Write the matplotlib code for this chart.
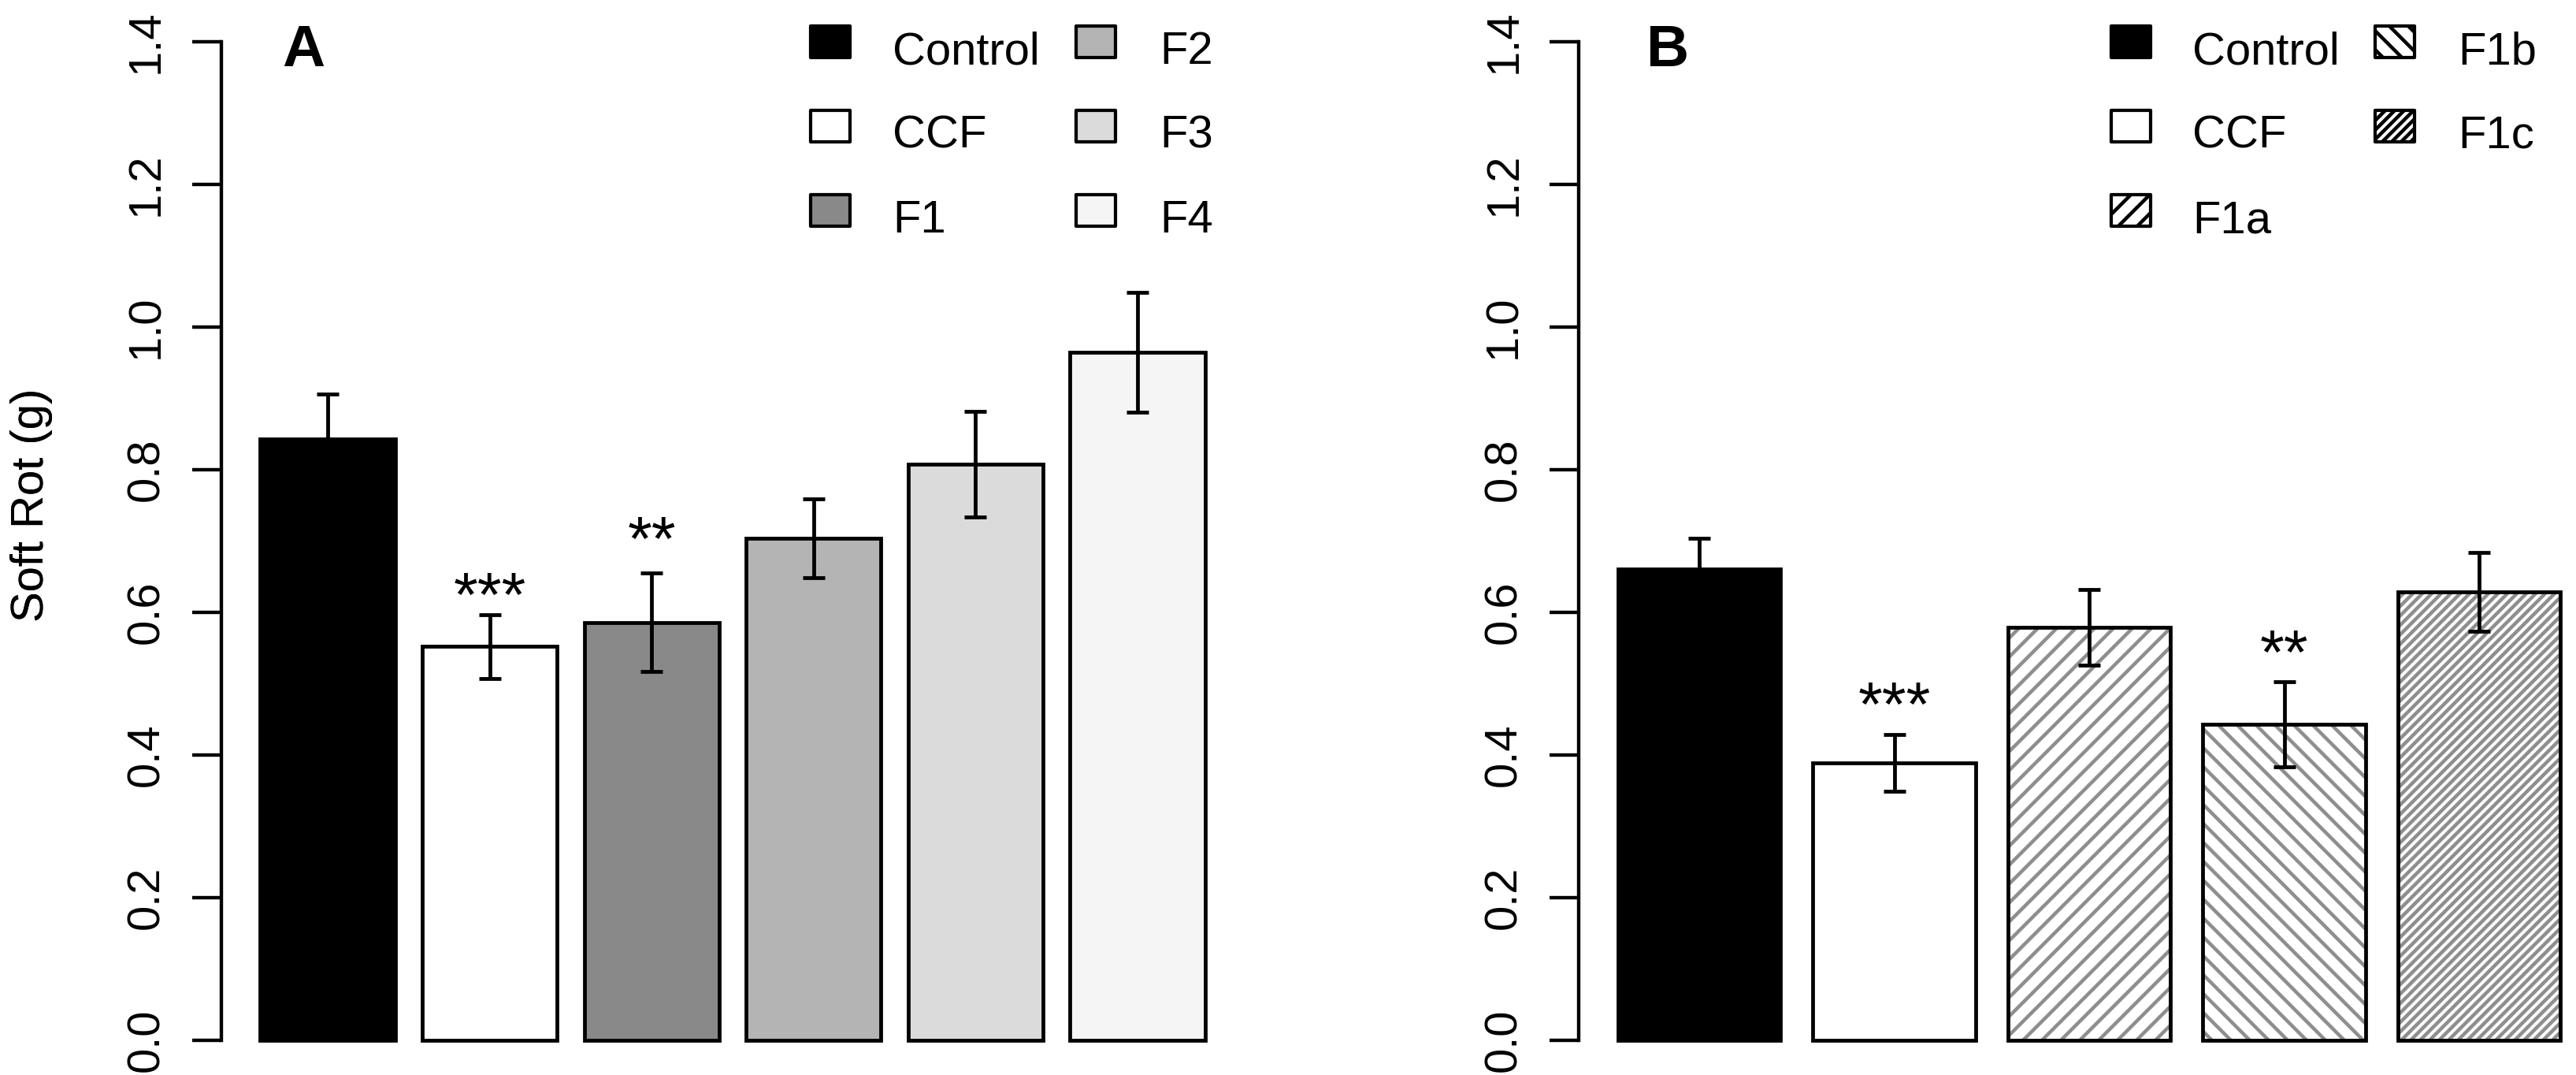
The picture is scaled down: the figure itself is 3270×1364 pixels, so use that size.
import matplotlib
matplotlib.use('Agg')
import matplotlib.pyplot as plt
from matplotlib.patches import Rectangle

plt.rcParams['font.family'] = ['Liberation Sans', 'DejaVu Sans']
# at 72 dpi one point equals one pixel; hatch cell = 72 px
plt.rcParams['hatch.linewidth'] = 4.5

# ---------------- data ----------------
groups_a = ['Control', 'CCF', 'F1', 'F2', 'F3', 'F4']
means_a = [0.843, 0.552, 0.586, 0.704, 0.808, 0.965]
se_a = [0.063, 0.045, 0.069, 0.055, 0.074, 0.084]
fills_a = ['#000000', '#ffffff', '#898989', '#b4b4b4', '#dbdbdb', '#f5f5f5']
sig_a = ['', '***', '**', '', '', '']
sig_y_a = [0, 0.594, 0.673, 0, 0, 0]

groups_b = ['Control', 'CCF', 'F1a', 'F1b', 'F1c']
means_b = [0.661, 0.389, 0.579, 0.443, 0.629]
se_b = [0.043, 0.040, 0.053, 0.060, 0.055]
fills_b = ['#000000', '#ffffff', '#ffffff', '#ffffff', '#ffffff']
hatch_b = ['', '', '/', '\\', '//']
sig_b = ['', '***', '', '**', '']
sig_y_b = [0, 0.441, 0, 0.514, 0]

yticks = [0.0, 0.2, 0.4, 0.6, 0.8, 1.0, 1.2, 1.4]
ytick_labels = ['0.0', '0.2', '0.4', '0.6', '0.8', '1.0', '1.2', '1.4']
ylabel = 'Soft Rot (g)'

# ---------------- layout ----------------
W, H, DPI = 3270, 1364, 72
fig = plt.figure(figsize=(W / DPI, H / DPI), dpi=DPI)

Y0PX, PPU = 1320.0, 905.0
YLIM = (-0.06, 1.56)
bot_px = Y0PX - YLIM[0] * PPU
top_px = Y0PX - YLIM[1] * PPU
ax_bottom = (H - bot_px) / H
ax_height = (bot_px - top_px) / H

HATCH_GRAY = '#8e8e8e'
LW = 4.8
FS = 58


def panel(left_px, unit_px, n, means, ses, fills, hatches, sigs, sig_ys, letter, letter_x):
    xlim = (0.2 - 0.04 * (1.2 * n), 0.2 + 1.2 * n - 0.2 + 0.04 * (1.2 * n))
    width_px = (xlim[1] - xlim[0]) * unit_px
    ax = fig.add_axes([left_px / W, ax_bottom, width_px / W, ax_height])
    ax.set_xlim(*xlim)
    ax.set_ylim(*YLIM)
    xs = [0.7 + 1.2 * i for i in range(n)]
    for i in range(n):
        if hatches[i]:
            ax.bar(xs[i], means[i], width=1.0, color='white', edgecolor=HATCH_GRAY,
                   hatch=hatches[i], linewidth=0, zorder=2)
            ax.bar(xs[i], means[i], width=1.0, facecolor='none', edgecolor='black',
                   linewidth=LW, zorder=3)
        else:
            ax.bar(xs[i], means[i], width=1.0, color=fills[i], edgecolor='black',
                   linewidth=LW, zorder=3)
    ax.errorbar(xs, means, yerr=ses, fmt='none', ecolor='black', elinewidth=LW,
                capsize=14, capthick=LW, zorder=4)
    for i in range(n):
        if sigs[i]:
            ax.text(xs[i], sig_ys[i], sigs[i], ha='center', va='baseline',
                    fontsize=79, zorder=5)
    for s in ['top', 'right', 'bottom']:
        ax.spines[s].set_visible(False)
    ax.spines['left'].set_bounds(0, 1.4)
    ax.spines['left'].set_linewidth(4.4)
    ax.set_xticks([])
    ax.set_yticks(yticks)
    ax.set_yticklabels(ytick_labels, rotation=90, va='center', fontsize=FS)
    ax.tick_params(axis='y', direction='out', length=37, width=4.4, pad=31)
    ax.patch.set_alpha(0)
    # y label
    lx = (40 - left_px) / width_px
    ax.text(lx, 0.75, ylabel, rotation=90, ha='center', va='center',
            fontsize=FS, transform=ax.get_yaxis_transform())
    # panel letter
    fig.text(letter_x / W, 1 - 84 / H, letter, ha='center', va='baseline',
             fontsize=75, fontweight='bold')
    return ax


panel(281.0, 171.33, 6, means_a, se_a, fills_a, ['', '', '', '', '', ''],
      sig_a, sig_y_a, 'A', 385)
panel(2004.4, 206.25, 5, means_b, se_b, fills_b, hatch_b,
      sig_b, sig_y_b, 'B', 2117)


# ---------------- legends ----------------
def legend(names, fills, hatches, col_box_x, col_text_x):
    rows = 3
    for k, name in enumerate(names):
        c, r = divmod(k, rows)
        bx = col_box_x[c]
        by_top = 33 + 107 * r
        with plt.rc_context({'hatch.linewidth': 4.5, 'hatch.color': 'black'}):
            rect = Rectangle((bx / W, 1 - (by_top + 40) / H), 50 / W, 40 / H,
                             transform=fig.transFigure, facecolor=fills[k],
                             edgecolor='black', linewidth=4.2,
                             hatch=hatches[k] or None, joinstyle='round')
            if hatches[k] and hasattr(rect, 'set_hatch_linewidth'):
                rect.set_hatch_linewidth(4.5)
        fig.patches.append(rect)
        fig.text(col_text_x[c] / W, 1 - (81 + 107 * r) / H, name, ha='left',
                 va='baseline', fontsize=FS)


legend(groups_a, fills_a, ['', '', '', '', '', ''], [1029, 1366], [1133, 1472])
legend(groups_b, fills_b, hatch_b, [2680, 3015], [2783, 3120])

fig.savefig('out.png', dpi=DPI)
